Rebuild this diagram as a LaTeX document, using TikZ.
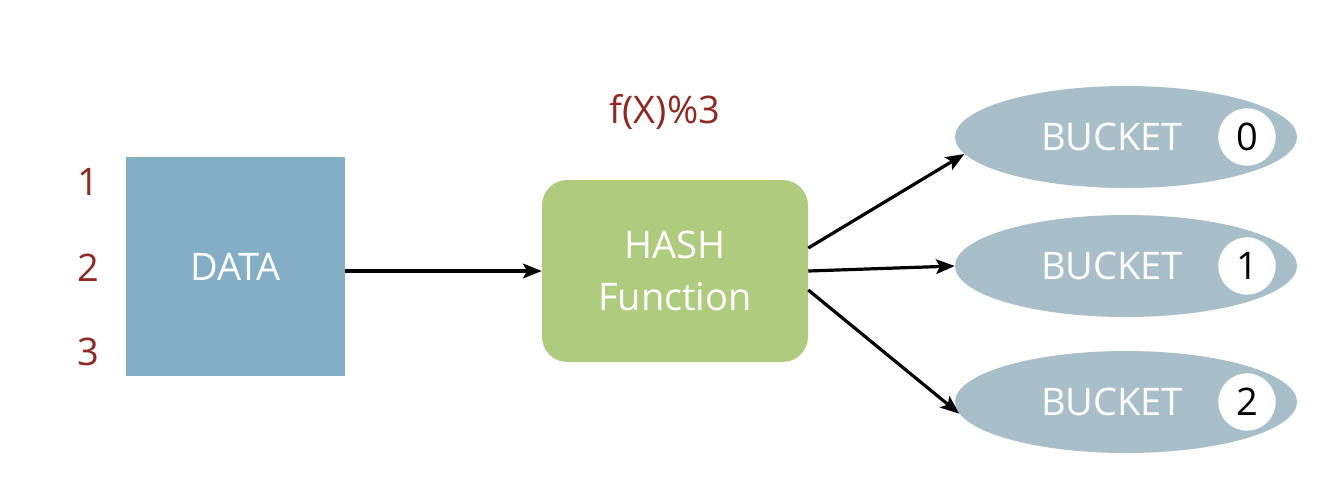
\documentclass[tikz,border=0pt]{standalone}
\usepackage{fontspec}
\setmainfont{Open Sans}
\usetikzlibrary{shapes.geometric,arrows.meta,calc}
\definecolor{datablue}{HTML}{84ADC6}
\definecolor{hashgreen}{HTML}{AFCB7E}
\definecolor{bucketgrey}{HTML}{A8BEC8}
\definecolor{darkred}{HTML}{8E2A22}
\tikzset{
  bigtxt/.style={font=\fontsize{28.5}{39}\selectfont},
  lbl/.style={bigtxt, text=darkred, inner sep=0pt},
  bucketshape/.style={ellipse, fill=bucketgrey, minimum width=256.5pt, minimum height=76.5pt, inner sep=0pt},
  buckettxt/.style={bigtxt, text=white, inner sep=0pt},
  numcirc/.style={circle, fill=white, minimum size=43pt, inner sep=0pt, bigtxt, text=black},
  conn/.style={line width=2.4pt, -{Stealth[length=14pt,width=11pt,inset=3pt]}}
}
\begin{document}
\begin{tikzpicture}[x=0.75pt,y=-0.75pt]
\useasboundingbox (0,0) rectangle (1340,476);
\fill[white] (0,0) rectangle (1340,476);
\node[fill=datablue, minimum width=164.25pt, minimum height=164.25pt, inner sep=0pt, bigtxt, text=white] (data) at (235.5,266.5) {DATA};
\node[lbl] (n1) at (88,182) {1};
\node[lbl] (n2) at (88,268) {2};
\node[lbl] (n3) at (88,352) {3};
\node[lbl] (fx) at (665,112) {f(X)\%3};
\node[fill=hashgreen, rounded corners=19pt, minimum width=199.5pt, minimum height=136.5pt, inner sep=0pt, bigtxt, text=white, align=center] (hash) at (675,271) {HASH\\Function};
\node[bucketshape] (b0) at (1126,137) {};
\node[bucketshape] (b1) at (1126,266) {};
\node[bucketshape] (b2) at (1126,402) {};
\node[buckettxt] (t0) at (1112,137) {BUCKET};
\node[buckettxt] (t1) at (1112,266) {BUCKET};
\node[buckettxt] (t2) at (1112,402) {BUCKET};
\node[numcirc] (c0) at (1247,137) {0};
\node[numcirc] (c1) at (1247,266) {1};
\node[numcirc] (c2) at (1247,402) {2};
\draw[conn] (data.east |- hash.west) -- (hash.west);
\draw[conn] ($(hash.east)+(0,-23)$) -- (b0.186);
\draw[conn] (hash.east) -- (b1.west);
\draw[conn] ($(hash.east)+(0,19)$) -- (b2.184);
\end{tikzpicture}
\end{document}
